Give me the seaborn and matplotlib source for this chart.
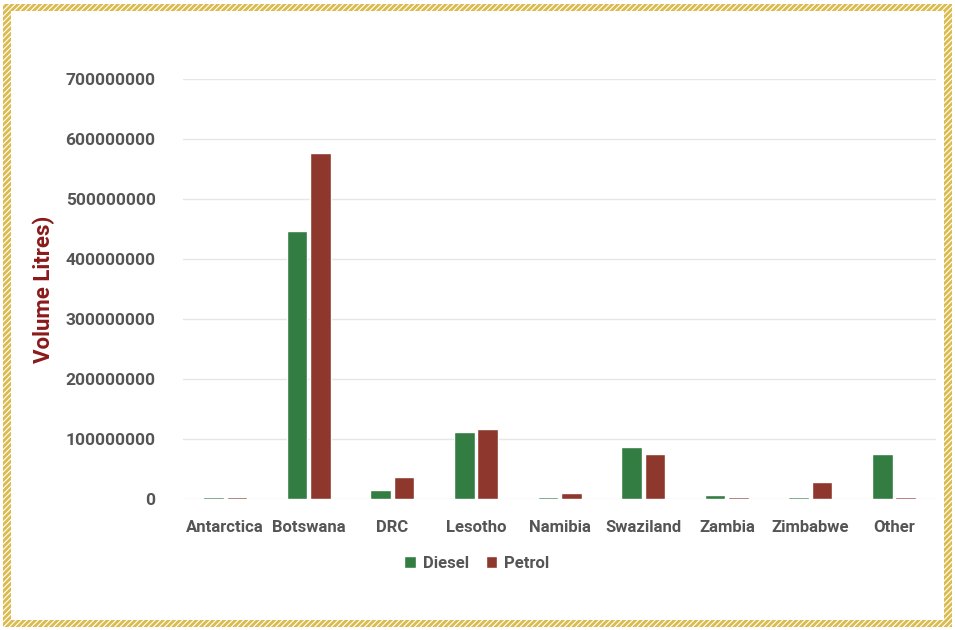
import pandas as pd
import matplotlib.pyplot as plt
import seaborn as sns
from matplotlib.patches import Rectangle

countries = ["Antarctica", "Botswana", "DRC", "Lesotho", "Namibia",
             "Swaziland", "Zambia", "Zimbabwe", "Other"]
diesel = [4000000, 447000000, 15000000, 112000000, 3000000,
          87000000, 6000000, 2500000, 75000000]
petrol = [3000000, 577000000, 37000000, 117000000, 10000000,
          75000000, 3500000, 28000000, 3000000]
yticks = [0, 100000000, 200000000, 300000000, 400000000,
          500000000, 600000000, 700000000]

df = pd.DataFrame({"Country": countries, "Diesel": diesel, "Petrol": petrol})
df = df.melt(id_vars="Country", var_name="Fuel", value_name="Volume")

sns.set_style("white")
plt.rcParams["font.family"] = ["Roboto", "DejaVu Sans"]
plt.rcParams["hatch.linewidth"] = 2.0

fig = plt.figure(figsize=(9.55, 6.3), dpi=100)
ax = fig.add_axes([0.192, 0.208, 0.788, 0.667])

sns.barplot(data=df, x="Country", y="Volume", hue="Fuel",
            palette={"Diesel": "#27893b", "Petrol": "#9e2c1d"},
            width=0.56, gap=0.12, ax=ax)

ax.set_ylim(0, 700000000)
ax.set_yticks(yticks)
ax.set_yticklabels([str(v) for v in yticks])
ax.yaxis.grid(True, color="#e6e6e6", lw=1)
ax.set_axisbelow(True)
sns.despine(ax=ax, left=True, bottom=True)
ax.tick_params(axis="x", length=0, colors="#555555", labelsize=12, pad=15)
ax.tick_params(axis="y", length=0, colors="#555555", labelsize=12.5, pad=20)
for t in ax.get_xticklabels() + ax.get_yticklabels():
    t.set_fontweight("bold")
ax.set_xlabel("")
ax.set_ylabel("Volume Litres)", color="#8b1a1a", fontsize=16,
              fontweight="bold")
ax.yaxis.set_label_coords(-0.17, 0.5)

ax.legend(loc="upper center", bbox_to_anchor=(0.39, -0.1), ncol=2,
          frameon=False, handlelength=0.7, handleheight=0.7,
          handletextpad=0.4, columnspacing=1.0,
          prop={"size": 12, "weight": "bold"}, labelcolor="#555555")

# hatched golden frame
border = Rectangle((0.003, 0.005), 0.994, 0.989, transform=fig.transFigure,
                   facecolor="none", edgecolor="#dcbb4e", hatch="//////",
                   lw=0, zorder=-3)
inner = Rectangle((0.0115, 0.016), 0.977, 0.967, transform=fig.transFigure,
                  facecolor="white", edgecolor="none", zorder=-1)
fig.patches.extend([border, inner])

fig.savefig("out.png", dpi=100)
